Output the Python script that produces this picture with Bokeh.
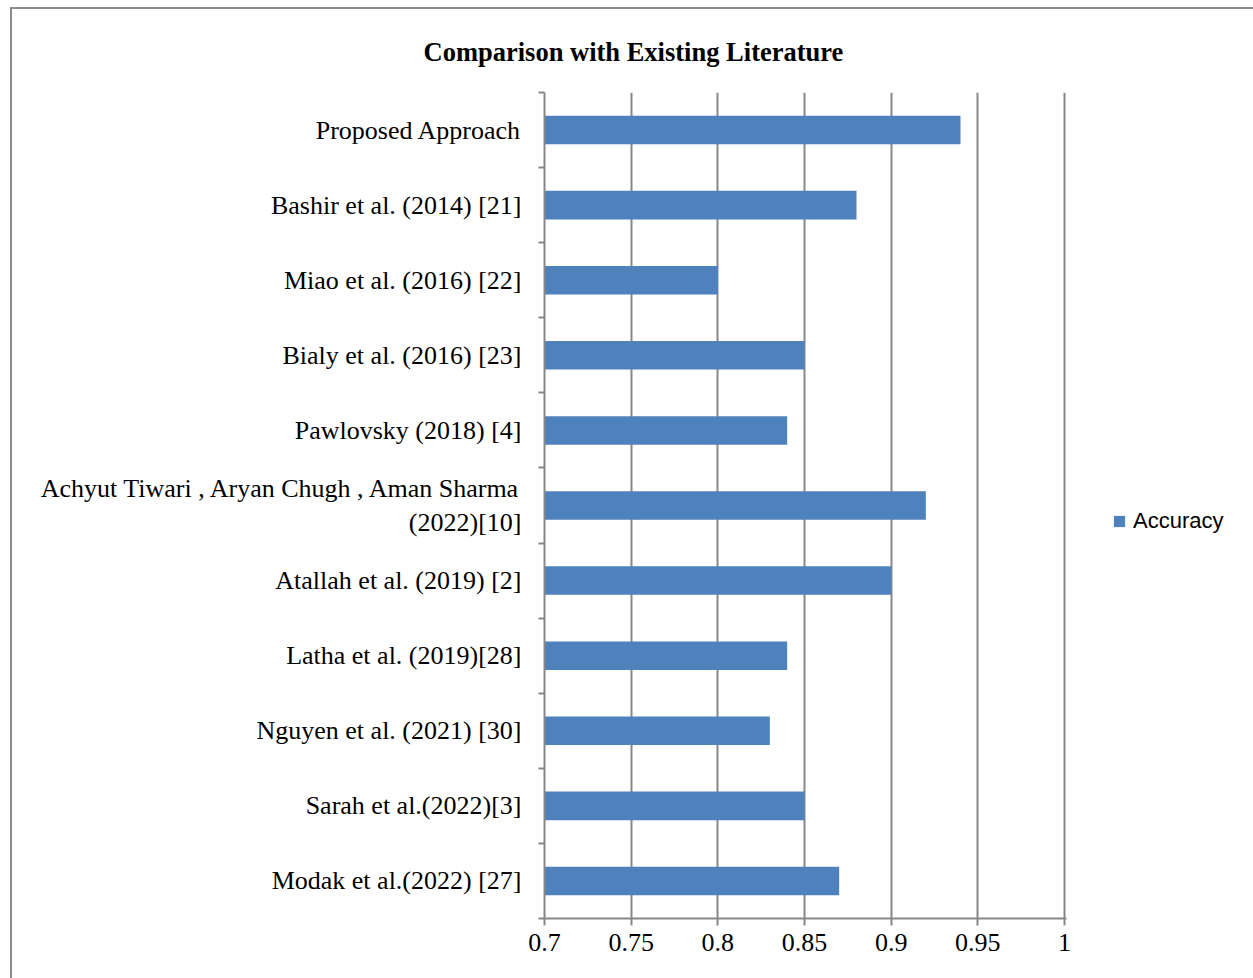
from bokeh.plotting import figure
from bokeh.models import FixedTicker, Legend, LegendItem, Range1d
from bokeh.embed import file_html
from bokeh.resources import INLINE

# ---- data (top to bottom as shown) ----
studies = [
    "Proposed Approach",
    "Bashir et al. (2014) [21]",
    "Miao et al. (2016) [22]",
    "Bialy et al. (2016) [23]",
    "Pawlovsky (2018) [4]",
    "Achyut Tiwari , Aryan Chugh , Aman Sharma\n(2022)[10]",
    "Atallah et al. (2019) [2]",
    "Latha et al. (2019)[28]",
    "Nguyen et al. (2021) [30]",
    "Sarah et al.(2022)[3]",
    "Modak et al.(2022) [27]",
]
accuracy = [0.94, 0.88, 0.80, 0.85, 0.84, 0.92, 0.90, 0.84, 0.83, 0.85, 0.87]
x_ticks = [0.7, 0.75, 0.8, 0.85, 0.9, 0.95, 1.0]
x_tick_labels = ["0.7", "0.75", "0.8", "0.85", "0.9", "0.95", "1"]
title_text = "Comparison with Existing Literature"
series_name = "Accuracy"

n = len(studies)
ypos = [n - 1 - i for i in range(n)]

SERIF = "Liberation Serif"
GRAY = "#878787"
BAR = "#4F81BD"

FW, FH = 522, 826
span = x_ticks[-1] - x_ticks[0]
p = figure(frame_width=FW, frame_height=FH, output_backend="svg", toolbar_location=None,
           x_range=Range1d(x_ticks[0], x_ticks[0] + span * FW / 520.0),
           y_range=Range1d(-0.5, n - 0.5),
           min_border_left=532, min_border_right=187,
           min_border_top=83, min_border_bottom=60,
           styles={"margin-left": "10px", "margin-top": "7px",
                   "border-left": "2px solid #8c8c8c",
                   "border-top": "2px solid #8c8c8c"})
p.outline_line_color = None
p.background_fill_color = "white"
p.border_fill_color = "white"

r = p.hbar(y=ypos, left=x_ticks[0], right=accuracy, height=0.38,
           fill_color=BAR, line_color=None)

# title
p.title.text = title_text
p.title.align = "left"
p.title.vertical_align = "top"
p.title.offset = -121
p.title.standoff = 47
p.title.text_font = SERIF
p.title.text_font_size = "26.5px"
p.title.text_font_style = "bold"
p.title.text_color = "black"

# grid
p.ygrid.grid_line_color = None
p.xgrid.ticker = FixedTicker(ticks=x_ticks)
p.xgrid.grid_line_color = GRAY
p.xgrid.grid_line_width = 2

# x axis
xa = p.xaxis[0]
xa.ticker = FixedTicker(ticks=x_ticks, minor_ticks=[])
xa.major_label_overrides = {t: l for t, l in zip(x_ticks, x_tick_labels)}
xa.axis_line_color = GRAY
xa.axis_line_width = 2
xa.major_tick_line_color = GRAY
xa.major_tick_line_width = 2
xa.major_tick_out = 7
xa.major_tick_in = 0
xa.minor_tick_line_color = None
xa.major_label_standoff = 8
xa.major_label_text_font = SERIF
xa.major_label_text_font_size = "26px"
xa.major_label_text_color = "black"

# y axis
ya = p.yaxis[0]
ya.ticker = FixedTicker(ticks=ypos, minor_ticks=[k - 0.5 for k in range(n + 1)])
ya.major_label_overrides = {y: s for y, s in zip(ypos, studies)}
ya.axis_line_color = GRAY
ya.axis_line_width = 2
ya.major_tick_line_color = None
ya.major_tick_out = 0
ya.major_tick_in = 0
ya.minor_tick_line_color = GRAY
ya.minor_tick_line_width = 2
ya.minor_tick_out = 6
ya.minor_tick_in = 0
ya.major_label_standoff = 17
ya.major_label_text_font = SERIF
ya.major_label_text_font_size = "26px"
ya.major_label_text_color = "black"

# legend
leg = Legend(items=[LegendItem(label=series_name, renderers=[r])],
             location=(46, 384), orientation="vertical",
             glyph_width=14, glyph_height=14, label_standoff=7,
             label_text_font="Liberation Sans", label_text_font_size="22px",
             label_text_color="black", border_line_color=None,
             background_fill_alpha=0, padding=0, margin=0, spacing=0,
             label_height=14)
p.add_layout(leg, "right")

open("out.html", "w").write(file_html(p, INLINE))
